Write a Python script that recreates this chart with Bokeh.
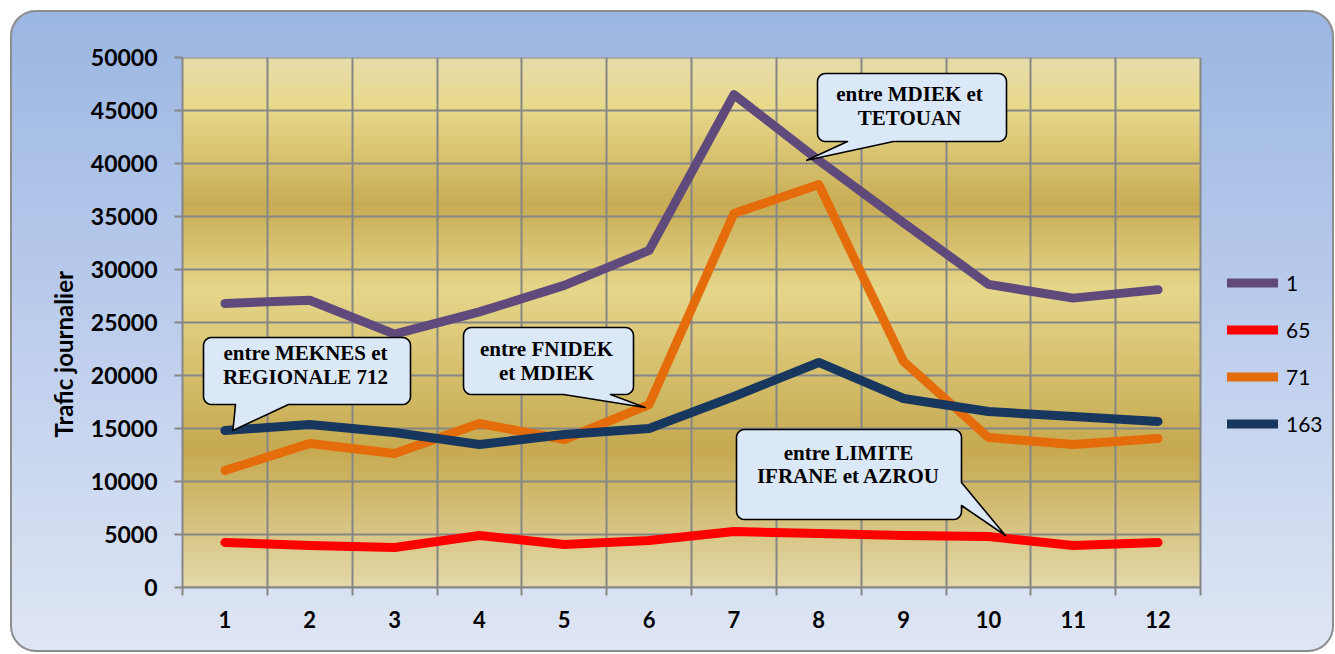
import numpy as np
from bokeh.plotting import figure
from bokeh.models import FixedTicker, Legend, LegendItem, Title
from bokeh.core.properties import value
from bokeh.embed import file_html
from bokeh.resources import INLINE

# ---------------- data ----------------
months = [1, 2, 3, 4, 5, 6, 7, 8, 9, 10, 11, 12]
x_labels = ["1", "2", "3", "4", "5", "6", "7", "8", "9", "10", "11", "12"]
route_1 = [26800, 27100, 23900, 26000, 28500, 31800, 46500, 40300, 34400, 28600, 27300, 28100]
route_65 = [4250, 3960, 3770, 4900, 4060, 4430, 5280, 5090, 4900, 4810, 3960, 4250]
route_71 = [11040, 13580, 12640, 15470, 13960, 17260, 35280, 38020, 21320, 14150, 13490, 14060]
route_163 = [14810, 15380, 14620, 13490, 14430, 15000, 18020, 21230, 17830, 16600, 16130, 15660]
series_names = ["1", "65", "71", "163"]
y_ticks = [0, 5000, 10000, 15000, 20000, 25000, 30000, 35000, 40000, 45000, 50000]
y_tick_labels = ["0", "5000", "10000", "15000", "20000", "25000", "30000", "35000", "40000", "45000", "50000"]
y_title = "Trafic journalier"
callout_texts = [
    ["entre MEKNES et", "REGIONALE 712"],
    ["entre FNIDEK", "et MDIEK"],
    ["entre MDIEK et", "TETOUAN"],
    ["entre LIMITE", "IFRANE et AZROU"],
]

# ---------------- layout helpers ----------------
PAGE_OFF = 10
W, H = 1324, 642
ML, MR, MT, MB = 172, 4, 47, 65
PLOT_W = 1018                      # width of the gridded plot area (px)
FW, FH = W - ML - MR, H - MT - MB
XMIN, XEND, YMIN, YMAX = 0.5, 12.5, 0, 50000
XS = PLOT_W / (XEND - XMIN)        # px per x unit
XMAX = XMIN + FW / XS              # frame extends to host the legend
OX, OY = PAGE_OFF + ML, PAGE_OFF + MT + FH  # page px of (XMIN, YMIN)


def to_dx(px):
    return XMIN + (px - OX) / XS


def to_dy(py):
    return YMIN + (OY - py) * (YMAX - YMIN) / FH


def to_px(x):
    return OX + (x - XMIN) * XS


def to_py(y):
    return OY - (y - YMIN) * FH / (YMAX - YMIN)


p = figure(width=W, height=H, x_range=(XMIN, XMAX), y_range=(YMIN, YMAX),
           output_backend="svg", toolbar_location=None,
           min_border_left=ML, min_border_right=MR, min_border_top=MT, min_border_bottom=MB)
p.styles = {
    "margin-left": "%dpx" % PAGE_OFF,
    "margin-top": "%dpx" % PAGE_OFF,
    "background": "linear-gradient(to bottom, #9bb6e1 0%, #b9cbec 45%, #dfe6f4 100%)",
    "border-radius": "26px",
    "box-shadow": "inset 0 0 0 2px #8e8e8e",
}
p.border_fill_color = None
p.background_fill_color = None
p.outline_line_color = None

# golden gradient in the plot area
stops_f = [0.0, 0.09, 0.28, 0.44, 0.74, 1.0]
stops_c = ["#e6dcac", "#e8d98c", "#c8ac55", "#e5d68a", "#c6a950", "#e3d8a8"]


def hex2rgb(h):
    return np.array([int(h[i:i + 2], 16) for i in (1, 3, 5)], dtype=float)


stop_rgb = np.array([hex2rgb(c) for c in stops_c])
n = 120
edges = np.linspace(YMAX, YMIN, n + 1)
tops, bots, cols = [], [], []
for i in range(n):
    f = (i + 0.5) / n
    rgb = [np.interp(f, stops_f, stop_rgb[:, k]) for k in range(3)]
    cols.append("#%02x%02x%02x" % tuple(int(round(v)) for v in rgb))
    tops.append(min(YMAX, edges[i] + 80))
    bots.append(edges[i + 1])
p.quad(left=XMIN, right=XEND, top=tops, bottom=bots, fill_color=cols, line_color=None, level="image")

GRID = "#868686"
boundaries = [m - 0.5 for m in months] + [months[-1] + 0.5]
p.xgrid.ticker = FixedTicker(ticks=boundaries)
p.xgrid.grid_line_color = GRID
p.xgrid.grid_line_width = 2
p.ygrid.grid_line_color = None
# horizontal grid lines limited to the plot area
p.segment(x0=XMIN, x1=XEND, y0=y_ticks, y1=y_ticks, line_color=GRID, line_width=2, level="underlay")

# y axis
ya = p.yaxis[0]
ya.ticker = FixedTicker(ticks=y_ticks)
ya.major_label_overrides = {t: l for t, l in zip(y_ticks, y_tick_labels)}
ya.axis_line_color = GRID
ya.axis_line_width = 2
ya.major_tick_line_color = GRID
ya.major_tick_line_width = 2
ya.major_tick_out = 8
ya.major_tick_in = 0
ya.minor_tick_line_color = None
ya.major_label_text_font = "Lato"
ya.major_label_text_font_style = "bold"
ya.major_label_text_font_size = "23px"
ya.major_label_text_color = "#000000"
ya.major_label_standoff = 17

# y title (off-centre, as in the original)
ytitle = Title(text=y_title, align="left", offset=140, standoff=0, padding=10,
               text_font="Lato", text_font_style="bold", text_font_size="24px",
               text_color="#000000")
p.add_layout(ytitle, "left")

# x axis
xa = p.xaxis[0]
xa.bounds = (XMIN, XEND)
xa.ticker = FixedTicker(ticks=months, minor_ticks=boundaries)
xa.major_label_overrides = {m: l for m, l in zip(months, x_labels)}
xa.axis_line_color = GRID
xa.axis_line_width = 2
xa.major_tick_line_color = None
xa.major_tick_out = 8
xa.major_tick_in = 0
xa.minor_tick_line_color = GRID
xa.minor_tick_line_width = 2
xa.minor_tick_out = 8
xa.minor_tick_in = 0
xa.major_label_text_font = "Lato"
xa.major_label_text_font_style = "bold"
xa.major_label_text_font_size = "22px"
xa.major_label_text_color = "#000000"
xa.major_label_standoff = 15

# series lines
colors = ["#604a7b", "#ff0000", "#e46c0a", "#17375e"]
series = [route_1, route_65, route_71, route_163]
renderers = []
for s, c in zip(series, colors):
    r = p.line(months, s, line_color=c, line_width=9, line_cap="round", line_join="round")
    renderers.append(r)

# legend inside the (extended) frame, right of the plot area
leg_left_page = 1227
leg_top_page = 270
row_h, n_rows, spacing = 25, 4, 22
leg_h = n_rows * row_h + (n_rows - 1) * spacing
legend = Legend(items=[LegendItem(label=nm, renderers=[r]) for nm, r in zip(series_names, renderers)],
                location=(leg_left_page - OX, OY - leg_top_page - leg_h), orientation="vertical",
                background_fill_alpha=0, border_line_color=None, padding=0, margin=0,
                glyph_width=51, glyph_height=row_h, label_height=row_h, spacing=spacing, label_standoff=8,
                label_text_font="Lato", label_text_font_size="21px", label_text_color="#000000")
p.add_layout(legend, "center")


# callouts (page-pixel geometry converted to data coordinates)
def callout_poly(box, edge, base, tip, r=8):
    x0, y0, x1, y1 = box
    pts = []

    def arc(cx, cy, a0, a1):
        for t in np.linspace(np.radians(a0), np.radians(a1), 7):
            pts.append((cx + r * np.cos(t), cy + r * np.sin(t)))

    arc(x0 + r, y0 + r, 180, 270)
    arc(x1 - r, y0 + r, 270, 360)
    if edge == "right":
        pts += [(x1, base[0]), tip, (x1, base[1])]
    arc(x1 - r, y1 - r, 0, 90)
    if edge == "bottom":
        pts += [(base[1], y1), tip, (base[0], y1)]
    arc(x0 + r, y1 - r, 90, 180)
    return [to_dx(a) for a, b in pts], [to_dy(b) for a, b in pts]


tips = [
    (to_px(months[0]) + 8, to_py(route_163[0])),
    (to_px(months[5]) - 4, to_py(route_71[5]) + 3),
    (to_px(months[7]) - 12, to_py(route_1[7])),
    (to_px(months[9]) + 17, to_py(route_65[9]) - 1),
]
callouts = [
    dict(box=(203, 337, 410, 404), edge="bottom", base=(235, 288), cx=305, ly=(352, 376)),
    dict(box=(463, 327, 633, 394), edge="bottom", base=(563, 610), cx=546, ly=(348, 372)),
    dict(box=(817, 73, 1006, 141), edge="bottom", base=(847, 893), cx=909, ly=(93, 117)),
    dict(box=(736, 429, 961, 519), edge="right", base=(482, 505), cx=848, ly=(452, 475)),
]
tx, ty, tt = [], [], []
for c, tip, texts in zip(callouts, tips, callout_texts):
    xs, ys = callout_poly(c["box"], c["edge"], c["base"], tip)
    p.patch(xs, ys, fill_color="#dbe8f7", line_color="#000000", line_width=1.6, line_join="round")
    for line, ly in zip(texts, c["ly"]):
        tx.append(to_dx(c["cx"]))
        ty.append(to_dy(ly))
        tt.append(line)
p.text(x=tx, y=ty, text=tt, text_font=value("Liberation Serif"), text_font_style="bold",
       text_font_size="21px", text_align="center", text_baseline="middle", text_color="#000000")

open("out.html", "w").write(file_html(p, INLINE))
